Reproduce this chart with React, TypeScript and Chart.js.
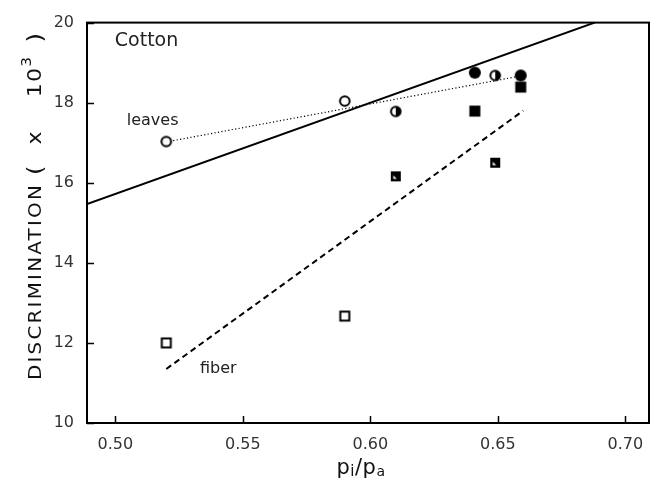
import React, { useEffect, useRef } from "react";
import { Chart, registerables } from "chart.js";

Chart.register(...registerables);

// ---- data ----
const leafX = [0.52, 0.59, 0.61, 0.641, 0.649, 0.659];
const leafY = [17.03, 18.04, 17.78, 18.75, 18.68, 18.68];
const leafMarker = ["open", "open", "half", "filled", "half", "filled"];

const fiberX = [0.52, 0.59, 0.61, 0.641, 0.649, 0.659];
const fiberY = [12.0, 12.67, 16.16, 17.79, 16.5, 18.39];
const fiberMarker = ["open", "open", "half", "filled", "half", "filled"];

const modelLineX = [0.4889, 0.688];
const modelLineY = [15.47, 20.0];

const leafFitX = [0.52, 0.66];
const leafFitY = [17.02, 18.68];

const fiberFitX = [0.52, 0.66];
const fiberFitY = [11.35, 17.8];

const xTicks = [0.5, 0.55, 0.6, 0.65, 0.7];
const yTicks = [10, 12, 14, 16, 18, 20];
const xRange = [0.4889, 0.7093];
const yRange = [10, 20];

const noteTexts = ["Cotton", "leaves", "fiber"];
const noteX = [0.4998, 0.5045, 0.5332];
const noteY = [19.53, 17.55, 11.35];
const noteSizes = [19, 16, 16];

const yTitleMain = "DISCRIMINATION";
const yTitleParts = ["(", "x", "10", "3", ")"];

const FONT = "'DejaVu Sans', 'Liberation Sans', sans-serif";

function makeMarker(kind: string, shape: "circle" | "square") {
  const s = 16;
  const c = document.createElement("canvas");
  c.width = s;
  c.height = s;
  const g = c.getContext("2d")!;
  const m = s / 2;
  g.lineWidth = 2;
  g.strokeStyle = "#000";
  g.fillStyle = "#000";
  if (shape === "circle") {
    if (kind === "filled") {
      g.beginPath();
      g.arc(m, m, 6, 0, Math.PI * 2);
      g.fill();
    } else {
      const r = 4.8;
      g.beginPath();
      g.arc(m, m, r, 0, Math.PI * 2);
      g.fillStyle = "#fff";
      g.fill();
      if (kind === "half") {
        g.beginPath();
        g.moveTo(m, m - r);
        g.arc(m, m, r, -Math.PI / 2, Math.PI / 2);
        g.closePath();
        g.fillStyle = "#000";
        g.fill();
      }
      g.beginPath();
      g.arc(m, m, r, 0, Math.PI * 2);
      g.stroke();
    }
  } else {
    if (kind === "open") {
      g.fillStyle = "#fff";
      g.fillRect(m - 4.5, m - 4.5, 9, 9);
      g.strokeRect(m - 4.5, m - 4.5, 9, 9);
    } else if (kind === "filled") {
      g.fillRect(m - 5.5, m - 5.5, 11, 11);
    } else {
      g.fillRect(m - 5, m - 5, 10, 10);
      g.fillStyle = "#fff";
      g.beginPath();
      g.moveTo(m - 2.5, m - 1);
      g.lineTo(m - 2.5, m + 2.5);
      g.lineTo(m + 1, m + 2.5);
      g.closePath();
      g.fill();
    }
  }
  return c;
}

const framePlugin = {
  id: "frame",
  afterDraw(chart: any) {
    const { ctx, chartArea: a, scales } = chart;
    const xs = scales.x;
    const ys = scales.y;
    ctx.save();
    ctx.strokeStyle = "#000";
    ctx.lineWidth = 2;
    ctx.strokeRect(a.left, a.top, a.right - a.left, a.bottom - a.top);
    ctx.lineWidth = 1.5;
    ctx.beginPath();
    xTicks.forEach((v) => {
      const px = Math.round(xs.getPixelForValue(v)) + 0.5;
      ctx.moveTo(px, a.bottom);
      ctx.lineTo(px, a.bottom - 7);
    });
    yTicks.forEach((v) => {
      const py = Math.round(ys.getPixelForValue(v)) + 0.5;
      ctx.moveTo(a.left, py);
      ctx.lineTo(a.left + 7, py);
    });
    ctx.stroke();

    // annotations
    ctx.fillStyle = "#222";
    ctx.textBaseline = "middle";
    ctx.textAlign = "left";
    noteTexts.forEach((t, i) => {
      ctx.font = noteSizes[i] + "px " + FONT;
      ctx.fillText(t, xs.getPixelForValue(noteX[i]), ys.getPixelForValue(noteY[i]));
    });

    // y title (rotated); spans pixel rows 380 (bottom) .. 32 (top)
    ctx.save();
    ctx.translate(36, 0);
    ctx.rotate(-Math.PI / 2);
    ctx.fillStyle = "#111";
    ctx.textBaseline = "middle";
    ctx.textAlign = "left";
    const big = "18px " + FONT;
    ctx.font = big;
    (ctx as any).letterSpacing = "2px";
    const mainW = ctx.measureText(yTitleMain).width;
    const sx = 197 / mainW;
    const start = 380;
    ctx.save();
    ctx.translate(-start, 0);
    ctx.scale(sx, 1);
    ctx.fillText(yTitleMain, 0, 0);
    ctx.restore();
    (ctx as any).letterSpacing = "1px";
    const fonts = ["22px " + FONT, "20px " + FONT, "20px " + FONT, "14px " + FONT, "22px " + FONT];
    const dys = [0, 0, 0, -9, 0];
    const widths = yTitleParts.map((t, i) => {
      ctx.font = fonts[i];
      return ctx.measureText(t).width * sx;
    });
    const pStart = start - 197 - 8;
    const pEnd = 32;
    const rem = pStart - pEnd - widths.reduce((s, w) => s + w, 0);
    const gapFr = [0.3, 0.5, 0.0, 0.2, 0];
    let pos = pStart;
    yTitleParts.forEach((t, i) => {
      ctx.font = fonts[i];
      ctx.save();
      ctx.translate(-pos, dys[i]);
      ctx.scale(sx, 1);
      ctx.fillText(t, 0, 0);
      ctx.restore();
      pos -= widths[i] + Math.max(0, rem) * gapFr[i];
    });
    ctx.restore();

    // x title: p_i / p_a
    ctx.save();
    ctx.fillStyle = "#111";
    ctx.textBaseline = "alphabetic";
    ctx.textAlign = "left";
    (ctx as any).letterSpacing = "0px";
    const parts: [string, string, number][] = [
      ["p", "21px " + FONT, 0],
      ["i", "15px " + FONT, 2],
      ["/", "21px " + FONT, 0],
      ["p", "21px " + FONT, 0],
      ["a", "14px " + FONT, 2],
    ];
    let tw = 0;
    parts.forEach(([t, f]) => {
      ctx.font = f;
      tw += ctx.measureText(t).width + 0.5;
    });
    let cx = 361 - tw / 2;
    const base = 474;
    parts.forEach(([t, f, dy]) => {
      ctx.font = f;
      ctx.fillText(t, cx, base + dy);
      cx += ctx.measureText(t).width + 0.5;
    });
    ctx.restore();
    ctx.restore();
  },
};

export default function App() {
  const ref = useRef<HTMLCanvasElement>(null);
  useEffect(() => {
    if (!ref.current) return;
    const leafStyles = leafMarker.map((k) => makeMarker(k, "circle"));
    const fiberStyles = fiberMarker.map((k) => makeMarker(k, "square"));
    const pts = (xs: number[], ys: number[]) => xs.map((x, i) => ({ x, y: ys[i] }));
    const chart = new Chart(ref.current, {
      type: "scatter",
      data: {
        datasets: [
          {
            label: "leaves",
            data: pts(leafX, leafY),
            pointStyle: (c: any) => leafStyles[c.dataIndex],
            pointRadius: 6,
            showLine: false,
            order: 0,
          } as any,
          {
            label: "fiber",
            data: pts(fiberX, fiberY),
            pointStyle: (c: any) => fiberStyles[c.dataIndex],
            pointRadius: 6,
            showLine: false,
            order: 0,
          } as any,
          {
            label: "model",
            data: pts(modelLineX, modelLineY),
            showLine: true,
            pointRadius: 0,
            borderColor: "#000",
            borderWidth: 2,
            order: 2,
          },
          {
            label: "leaf fit",
            data: pts(leafFitX, leafFitY),
            showLine: true,
            pointRadius: 0,
            borderColor: "#000",
            borderWidth: 1.2,
            borderDash: [1.2, 2.3],
            order: 2,
          },
          {
            label: "fiber fit",
            data: pts(fiberFitX, fiberFitY),
            showLine: true,
            pointRadius: 0,
            borderColor: "#000",
            borderWidth: 2,
            borderDash: [6, 4],
            order: 2,
          },
        ],
      },
      options: {
        animation: false,
        responsive: false,
        devicePixelRatio: 1,
        layout: { padding: { top: 15, right: 8, left: 0, bottom: 0 } },
        plugins: { legend: { display: false }, tooltip: { enabled: false } },
        scales: {
          x: {
            type: "linear",
            min: xRange[0],
            max: xRange[1],
            grid: { display: false, drawTicks: false },
            border: { display: false },
            afterFit: (s: any) => {
              s.height = 57;
            },
            afterBuildTicks: (s: any) => {
              s.ticks = xTicks.map((v) => ({ value: v }));
            },
            ticks: {
              padding: 12,
              color: "#333",
              font: { family: FONT, size: 16 },
              callback: (v: any) => Number(v).toFixed(2),
            },
          },
          y: {
            type: "linear",
            min: yRange[0],
            max: yRange[1],
            grid: { display: false, drawTicks: false },
            border: { display: false },
            afterFit: (s: any) => {
              s.width = 87;
            },
            afterBuildTicks: (s: any) => {
              s.ticks = yTicks.map((v) => ({ value: v }));
            },
            ticks: {
              padding: 13,
              color: "#333",
              font: { family: FONT, size: 16 },
              callback: (v: any) => String(v),
            },
          },
        },
      },
      plugins: [framePlugin],
    } as any);
    return () => chart.destroy();
  }, []);
  return (
    <div style={{ position: "absolute", left: 0, top: 0, width: 657, height: 480, background: "#fff" }}>
      <canvas ref={ref} width={657} height={480} style={{ width: 657, height: 480 }} />
    </div>
  );
}
